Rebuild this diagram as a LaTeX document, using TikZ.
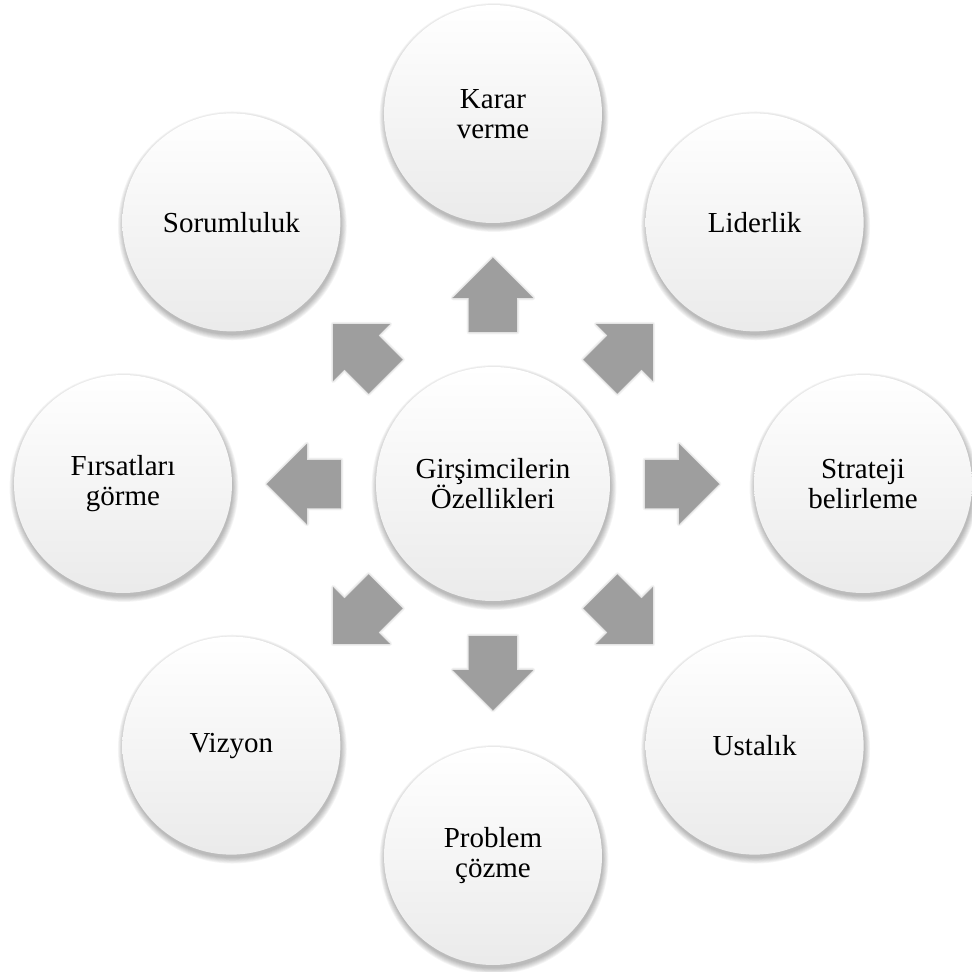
\documentclass[tikz,border=0pt]{standalone}
\usepackage{fontspec}
\setmainfont{Liberation Serif}
\usetikzlibrary{calc}
\begin{document}
\begin{tikzpicture}[x=1pt,y=1pt,
  bubble/.style={circle, minimum size=218pt, inner sep=0pt, align=center,
    top color=white, middle color=white, bottom color=black!8,
    font=\fontsize{29}{30}\selectfont},
  hub/.style={bubble, minimum size=234pt},
  softshade/.style={fill=black, opacity=0.045},
  blockarrow/.style={fill=black!38}]
\useasboundingbox (-493,-488) rectangle (479,484);
\coordinate (o) at (0,0);
% soft shadows of the circles
\foreach \ang/\dist/\rad in {0/0/117,90/370/109,45/370/109,0/370/109,-45/370/109,-90/372/109,-135/370/109,180/370/109,135/370/109}{
  \coordinate (sc) at ($(o)+(\ang:\dist)$);
  \foreach \k in {0,1,...,6}{
    \fill[softshade] ($(sc)+(1,-3.5)$) circle ({\rad+\k*0.9});
  }
}
\node[hub] (c) at (o) {Girşimcilerin\\Özellikleri};
% arrows with soft shadows
\foreach \a in {0,45,...,315}{
  \foreach \k in {0,1,2,3}{
    \begin{scope}[shift={(0.5,-3)}]
    \filldraw[line width=\k*1.6pt, line join=round, draw=black, fill=black, draw opacity=0.04, fill opacity=0.04]
      ($(c.center)+(\a:152)+(\a-90:24)$) -- ++(\a:34) -- ++(\a-90:16)
      -- ($(c.center)+(\a:226)$) -- ($(c.center)+(\a:186)+(\a+90:40)$) -- ++(\a-90:16)
      -- ++(\a+180:34) -- cycle;
    \end{scope}
  }
  \fill[blockarrow] ($(c.center)+(\a:152)+(\a-90:24)$) -- ++(\a:34) -- ++(\a-90:16)
    -- ($(c.center)+(\a:226)$) -- ($(c.center)+(\a:186)+(\a+90:40)$) -- ++(\a-90:16)
    -- ++(\a+180:34) -- cycle;
}
\node[bubble] (karar) at ($(c.center)+(90:370)$) {Karar\\verme};
\node[bubble] (lider) at ($(c.center)+(45:370)$) {Liderlik};
\node[bubble] (strat) at ($(c.center)+(0:370)$) {Strateji\\belirleme};
\node[bubble] (ustal) at ($(c.center)+(-45:370)$) {Ustalık};
\node[bubble] (prob) at ($(c.center)+(-90:372)$) {Problem\\çözme};
\node[bubble] (vizyon) at ($(c.center)+(-135:370)$) {Vizyon};
\node[bubble] (firsat) at ($(c.center)+(180:370)$) {Fırsatları\\görme};
\node[bubble] (sorum) at ($(c.center)+(135:370)$) {Sorumluluk};
\end{tikzpicture}
\end{document}
